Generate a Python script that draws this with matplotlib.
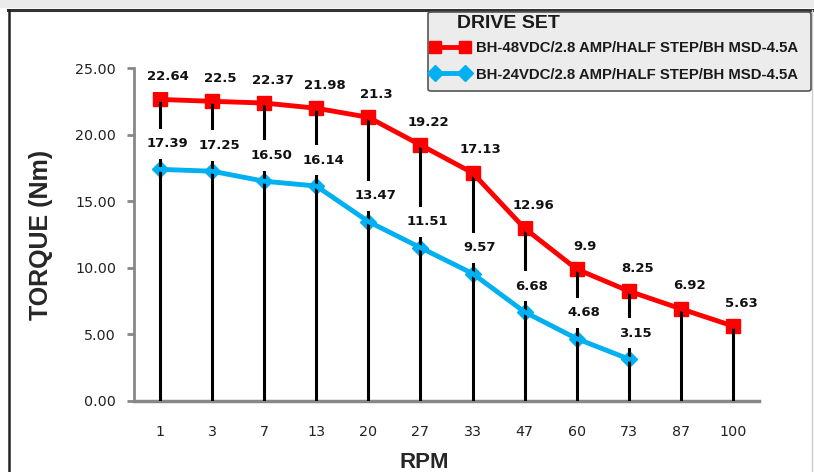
import numpy as np
import matplotlib.pyplot as plt
from matplotlib.lines import Line2D
from matplotlib.patches import FancyBboxPatch, Rectangle

rpm = ['1', '3', '7', '13', '20', '27', '33', '47', '60', '73', '87', '100']
torque_48v = [22.64, 22.5, 22.37, 21.98, 21.3, 19.22, 17.13, 12.96, 9.9, 8.25, 6.92, 5.63]
torque_24v = [17.39, 17.25, 16.50, 16.14, 13.47, 11.51, 9.57, 6.68, 4.68, 3.15]
name_48v = 'BH-48VDC/2.8 AMP/HALF STEP/BH MSD-4.5A'
name_24v = 'BH-24VDC/2.8 AMP/HALF STEP/BH MSD-4.5A'
yticks = [0, 5, 10, 15, 20, 25]

W, H = 814, 472
fig = plt.figure(figsize=(W / 100, H / 100), dpi=100)
fig.patch.set_facecolor('white')

# frame bits from the original screenshot
fig.add_artist(Rectangle((0, 1 - 8 / H), 1, 8 / H, transform=fig.transFigure,
                         facecolor='#ebebeb', edgecolor='none', zorder=0))
fig.add_artist(Line2D([8 / W, 1], [1 - 9.5 / H, 1 - 9.5 / H], transform=fig.transFigure,
                      color='#333333', lw=2.2))
fig.add_artist(Line2D([8.5 / W, 8.5 / W], [0, 1 - 9.5 / H], transform=fig.transFigure,
                      color='#222222', lw=1.8))
fig.add_artist(Line2D([812 / W, 812 / W], [0, 1 - 9.5 / H], transform=fig.transFigure,
                      color='#cccccc', lw=1))

ax = fig.add_axes([134 / W, 1 - 401 / H, (759 - 134) / W, (401 - 68) / H])

x48 = np.arange(len(torque_48v))
x24 = np.arange(len(torque_24v))

# lines on top of the label boxes, markers below the drop lines
l48, = ax.plot(x48, torque_48v, color='#ff0000', lw=3.5, zorder=5)
l24, = ax.plot(x24, torque_24v, color='#00b0f0', lw=3.5, zorder=5)
m48, = ax.plot(x48, torque_48v, ls='none', color='#ff0000', marker='s', ms=10, zorder=2)
m24, = ax.plot(x24, torque_24v, ls='none', color='#00b0f0', marker='D', ms=8.5, zorder=2)

# drop lines
ax.vlines(x48, 0, torque_48v, color='black', lw=2.2, zorder=3)

for x, v in zip(x48, torque_48v):
    ax.annotate('%g' % v, (x, v), xytext=(6, 16.5), textcoords='offset points',
                ha='center', va='center', fontsize=9.5, fontweight='bold',
                color='#111111', zorder=4,
                bbox=dict(boxstyle='square,pad=0.65', facecolor='white', edgecolor='none'))
for x, v in zip(x24, torque_24v):
    ax.annotate('%.2f' % v, (x, v), xytext=(5, 18.5), textcoords='offset points',
                ha='center', va='center', fontsize=9.5, fontweight='bold',
                color='#111111', zorder=4,
                bbox=dict(boxstyle='square,pad=0.65', facecolor='white', edgecolor='none'))

ax.set_xlim(-0.5, len(rpm) - 0.5)
ax.set_ylim(0, 25)
ax.set_xticks(x48)
ax.set_xticklabels(rpm)
ax.set_yticks(yticks)
ax.set_yticklabels(['%.2f' % t for t in yticks])
ax.tick_params(axis='x', length=0, pad=17, labelsize=10.3, labelcolor='#222222')
ax.tick_params(axis='y', length=5, width=2, color='#888888', pad=8,
               labelsize=10.3, labelcolor='#222222')
for s in ['top', 'right']:
    ax.spines[s].set_visible(False)
ax.spines['left'].set_color('#888888')
ax.spines['left'].set_linewidth(2)
ax.spines['bottom'].set_color('#888888')
ax.spines['bottom'].set_linewidth(2.5)
ax.set_zorder(2)
ax.patch.set_alpha(0)

fig.text(41 / W, 1 - 235 / H, 'TORQUE (Nm)', rotation=90, ha='center', va='center',
         fontsize=18, fontweight='bold', family='Liberation Sans', color='#262626')
fig.text(424 / W, 4 / H, 'RPM', ha='center', va='baseline',
         fontsize=16, fontweight='bold', family='Liberation Sans', color='#262626')

# legend box
fig.add_artist(FancyBboxPatch((428 / W, 1 - 91 / H), 383 / W, 79 / H,
                              boxstyle='round,pad=0,rounding_size=0.004',
                              transform=fig.transFigure, facecolor='#ececec',
                              edgecolor='#555555', lw=1.2, zorder=5))
fig.text(457 / W, 1 - 23 / H, 'DRIVE SET', ha='left', va='center', fontsize=14,
         fontweight='bold', family='Liberation Sans', color='#1a1a1a', zorder=6)
leg = fig.legend(handles=[(l48, m48), (l24, m24)], labels=[name_48v, name_24v],
                 loc='upper left', bbox_to_anchor=(431 / W, 1 - 41 / H),
                 frameon=False, borderpad=0, borderaxespad=0, handlelength=2.6,
                 handletextpad=0.4, labelspacing=0.85, numpoints=2, markerscale=0.9,
                 prop={'family': 'Liberation Sans', 'weight': 'bold', 'size': 10.7})
leg.set_zorder(7)
for t in leg.get_texts():
    t.set_color('#1a1a1a')

fig.savefig('out.png', dpi=100)
